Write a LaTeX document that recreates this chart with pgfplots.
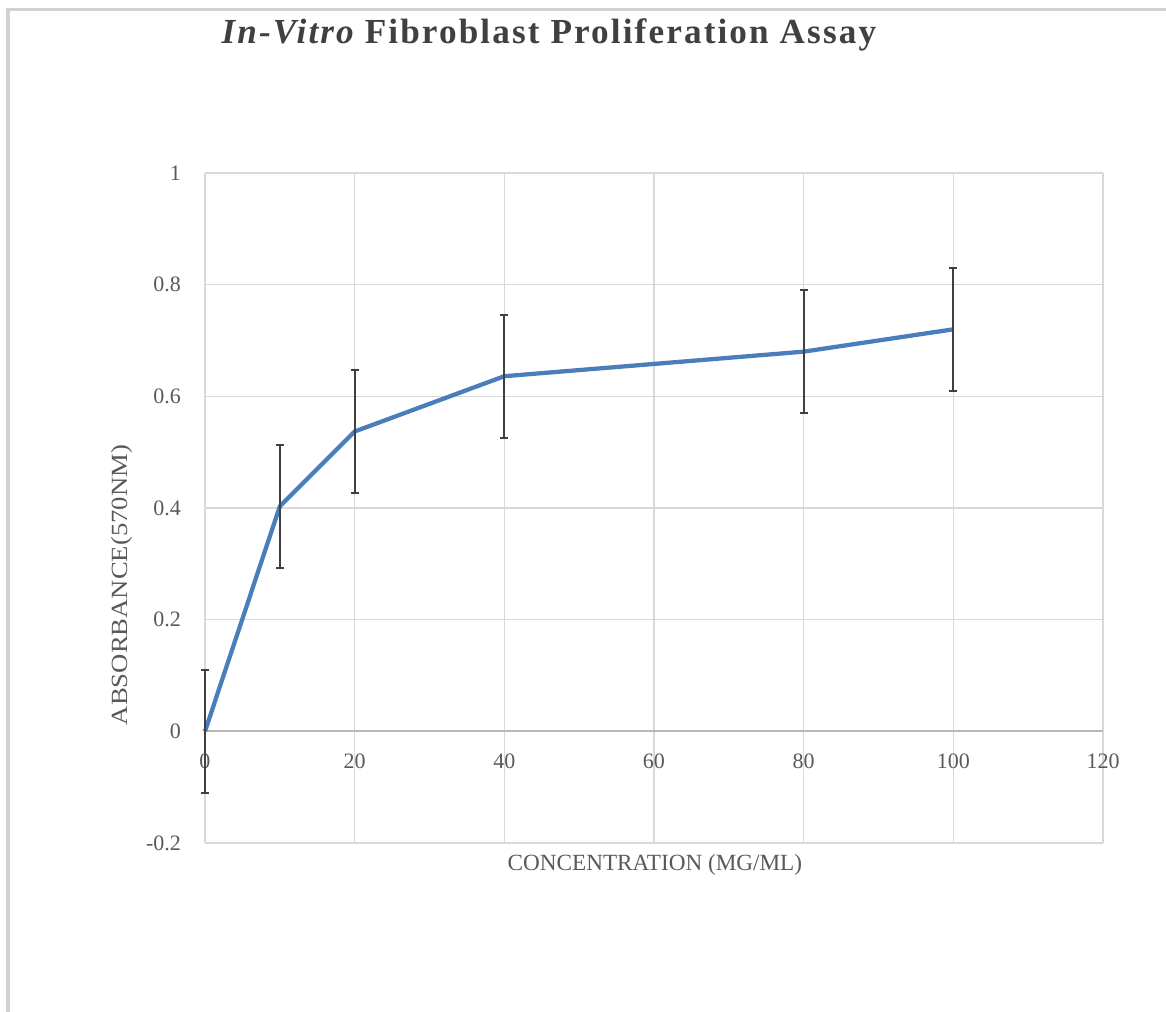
\documentclass[border=0pt]{standalone}
\usepackage{fontspec}
\setmainfont{Liberation Serif}
\newfontfamily\titlefont[LetterSpace=6]{Liberation Serif}
\newfontfamily\ylabelfont[FakeStretch=1.15]{Liberation Serif}
\usepackage{pgfplots}
\pgfplotsset{compat=1.18}
\definecolor{linecol}{HTML}{4A7EBB}
\definecolor{gridcol}{HTML}{D9D9D9}
\definecolor{txtcol}{HTML}{595959}
\definecolor{errcol}{HTML}{404040}
\begin{document}
\begin{tikzpicture}
\useasboundingbox (-76.875pt,-63.375pt) rectangle (360.375pt,316.125pt);
\draw[color=black!18, line width=1.2pt] (-73.875pt,-63.375pt) -- (-73.875pt,312.56pt) -- (360.375pt,312.56pt);
\begin{axis}[
  at={(0pt,0pt)}, anchor=south west,
  scale only axis,
  width=336.75pt, height=251.25pt,
  xmin=0, xmax=120, ymin=-0.2, ymax=1,
  xtick={0,20,...,120},
  ytick={-0.2,0,0.2,0.4,0.6,0.8,1},
  yticklabels={-0.2,0,0.2,0.4,0.6,0.8,1},
  grid=major,
  major grid style={color=gridcol, line width=0.6pt},
  axis line style={draw=none},
  major tick length=0pt,
  /pgf/number format/assume math mode=true,
  tick label style={font=\fontsize{8.25pt}{10pt}\selectfont, color=txtcol},
  yticklabel style={anchor=east, xshift=-5.5pt},
  xticklabel style={anchor=north, yshift=36.9pt},
  xlabel={CONCENTRATION (MG/ML)},
  ylabel={ABSORBANCE(570NM)},
  every axis x label/.style={at={(axis description cs:0.501,-0.0328)}, anchor=center, font=\fontsize{8.7pt}{10pt}\selectfont, text=txtcol},
  every axis y label/.style={at={(axis description cs:-0.0924,0.385)}, rotate=90, anchor=center, font=\ylabelfont\fontsize{8.7pt}{10pt}\selectfont, text=txtcol},
  every axis title/.style={at={(axis description cs:0.383,1.206)}, anchor=center, font=\titlefont\fontsize{13.2pt}{15pt}\selectfont, text=errcol},
  title={\bfseries\itshape In-Vitro\upshape{} Fibroblast Proliferation Assay},
  clip=false,
]
\draw[color=black!28, line width=0.7pt] (axis cs:0,0) -- (axis cs:120,0);
\addplot[color=linecol, line width=1.6pt, mark=none,
  error bars/.cd, y dir=both, y explicit,
  error bar style={color=errcol, line width=0.7pt},
  error mark options={rotate=90, mark size=1.5pt, color=errcol, line width=0.7pt}]
  coordinates {
  (0,0) +- (0,0.11)
  (10,0.403) +- (0,0.11)
  (20,0.537) +- (0,0.11)
  (40,0.636) +- (0,0.11)
  (80,0.68) +- (0,0.11)
  (100,0.72) +- (0,0.11)
  };
\end{axis}
\end{tikzpicture}
\end{document}
